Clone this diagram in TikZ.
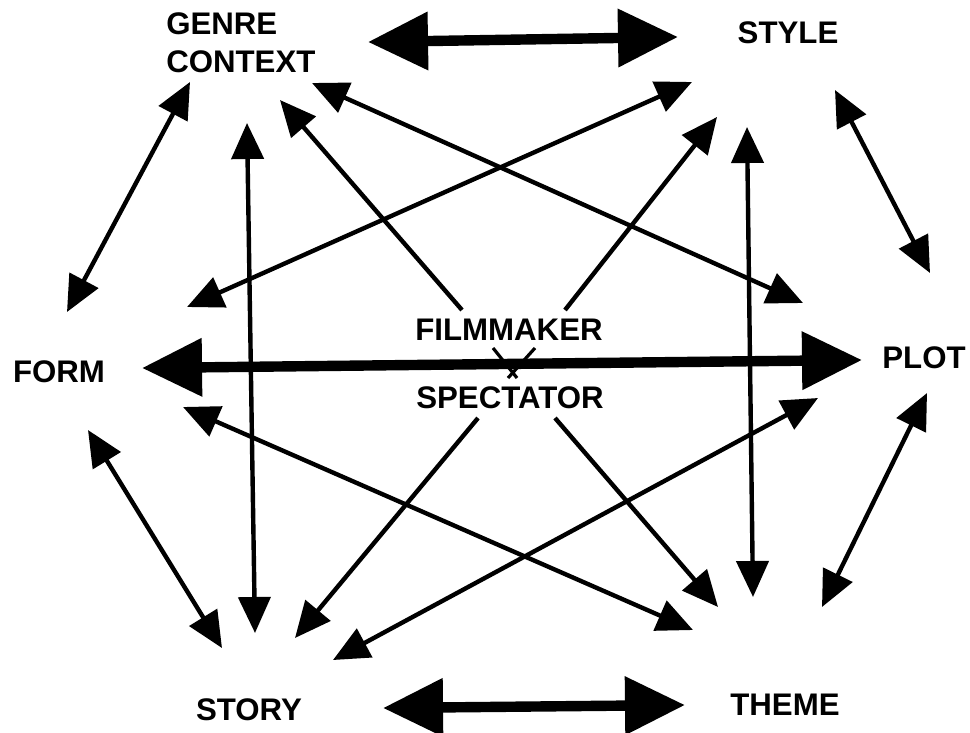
\documentclass[tikz,border=0pt]{standalone}
\usepackage{fontspec}
\setmainfont{Liberation Sans}
\usetikzlibrary{arrows.meta}
\begin{document}
\begin{tikzpicture}[x=0.025cm,y=-0.025cm,
  lbl/.style={font=\bfseries\fontsize{22.2}{27}\selectfont,inner sep=0pt},
  thin/.style={line width=0.11cm,-{Triangle[length=0.9cm,width=0.8cm]}},
  thinboth/.style={line width=0.11cm,{Triangle[length=0.9cm,width=0.8cm]}-{Triangle[length=0.9cm,width=0.8cm]}},
  thickboth/.style={line width=0.26cm,{Triangle[length=1.5cm,width=1.4cm]}-{Triangle[length=1.5cm,width=1.4cm]}},
  xmark/.style={line width=0.08cm}]
\useasboundingbox (0,0) rectangle (970,732);
% labels
\node[lbl,align=left,anchor=west] (genre) at (166,43) {GENRE\\CONTEXT};
\node[lbl,anchor=base] (style) at (788,43) {STYLE};
\node[lbl,anchor=base] (form) at (59,382) {FORM};
\node[lbl,anchor=base] (plot) at (924,368) {PLOT};
\node[lbl,anchor=base] (story) at (249,720) {STORY};
\node[lbl,anchor=base] (theme) at (785,715) {THEME};
\node[lbl,anchor=base] (film) at (509,340) {FILMMAKER};
\node[lbl,anchor=base] (spec) at (510,408) {SPECTATOR};
% end points
\coordinate (gs1) at (368,42);  \coordinate (gs2) at (678,37);
\coordinate (st1) at (383,708); \coordinate (st2) at (685,705);
\coordinate (fp1) at (142,368); \coordinate (fp2) at (862,360);
\coordinate (gf1) at (190,82);  \coordinate (gf2) at (67,312);
\coordinate (sp1) at (835,90);  \coordinate (sp2) at (930,273);
\coordinate (fs1) at (88,430);  \coordinate (fs2) at (222,648);
\coordinate (pt1) at (927,393); \coordinate (pt2) at (822,607);
\coordinate (gt1) at (247,123); \coordinate (gt2) at (255,633);
\coordinate (sh1) at (747,127); \coordinate (sh2) at (753,597);
\coordinate (gp1) at (312,83);  \coordinate (gp2) at (803,303);
\coordinate (sf1) at (692,82);  \coordinate (sf2) at (187,307);
\coordinate (ft1) at (183,407); \coordinate (ft2) at (693,630);
\coordinate (ps1) at (818,398); \coordinate (ps2) at (333,660);
\coordinate (mg1) at (462,310); \coordinate (mg2) at (280,100);
\coordinate (ms1) at (565,310); \coordinate (ms2) at (717,117);
\coordinate (xs1) at (478,418); \coordinate (xs2) at (295,638);
\coordinate (xt1) at (555,418); \coordinate (xt2) at (718,607);
\coordinate (xa1) at (493,348); \coordinate (xa2) at (517,378);
\coordinate (xb1) at (535,348); \coordinate (xb2) at (508,378);
% thick arrows
\draw[thickboth] (gs1) -- (gs2);
\draw[thickboth] (st1) -- (st2);
\draw[thickboth] (fp1) -- (fp2);
% thin double arrows
\draw[thinboth] (gf1) -- (gf2);
\draw[thinboth] (sp1) -- (sp2);
\draw[thinboth] (fs1) -- (fs2);
\draw[thinboth] (pt1) -- (pt2);
\draw[thinboth] (gt1) -- (gt2);
\draw[thinboth] (sh1) -- (sh2);
\draw[thinboth] (gp1) -- (gp2);
\draw[thinboth] (sf1) -- (sf2);
\draw[thinboth] (ft1) -- (ft2);
\draw[thinboth] (ps1) -- (ps2);
% single arrows from centre
\draw[thin] (mg1) -- (mg2);
\draw[thin] (ms1) -- (ms2);
\draw[thin] (xs1) -- (xs2);
\draw[thin] (xt1) -- (xt2);
% cross
\draw[xmark] (xa1) -- (xa2);
\draw[xmark] (xb1) -- (xb2);
\end{tikzpicture}
\end{document}
